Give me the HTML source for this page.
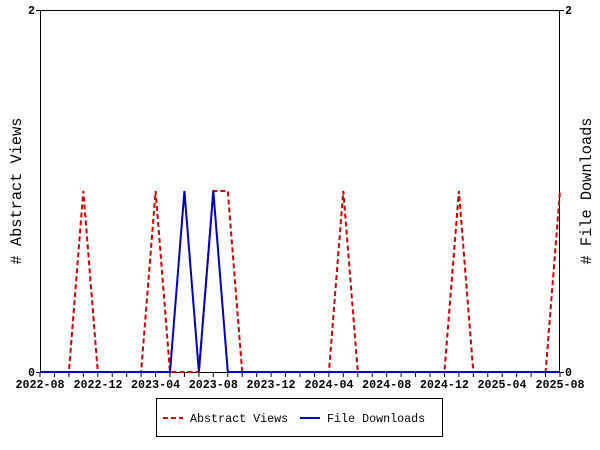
<!DOCTYPE html>
<html><head><style>body{margin:0;background:#fff}svg{display:block}text{font-family:"Liberation Mono",monospace;font-weight:bold;font-size:11.7px;fill:#000}</style></head><body>
<svg width="600" height="450" xmlns="http://www.w3.org/2000/svg">
<rect x="40.5" y="10.5" width="519" height="362" fill="none" stroke="#000" stroke-width="1"/>
<g stroke="#000" stroke-width="1" id="ticks"></g>
<g stroke="#000">
<line x1="36" y1="372.5" x2="40" y2="372.5"/><line x1="36" y1="10.5" x2="40" y2="10.5"/>
<line x1="560" y1="372.5" x2="564" y2="372.5"/><line x1="560" y1="10.5" x2="564" y2="10.5"/>
</g>
<text x="35" y="376" text-anchor="end">0</text><text x="35" y="14" text-anchor="end">2</text>
<text x="565" y="376">0</text><text x="565" y="14">2</text>
<text x="40" y="388" text-anchor="middle">2022-08</text>
<text x="98" y="388" text-anchor="middle">2022-12</text>
<text x="155.6" y="388" text-anchor="middle">2023-04</text>
<text x="213.3" y="388" text-anchor="middle">2023-08</text>
<text x="271" y="388" text-anchor="middle">2023-12</text>
<text x="329" y="388" text-anchor="middle">2024-04</text>
<text x="386.7" y="388" text-anchor="middle">2024-08</text>
<text x="444.4" y="388" text-anchor="middle">2024-12</text>
<text x="502" y="388" text-anchor="middle">2025-04</text>
<text x="560" y="388" text-anchor="middle">2025-08</text>
<text transform="translate(21,191) rotate(-90)" text-anchor="middle" style="font-size:15.3px;font-weight:normal"># Abstract Views</text>
<text transform="translate(591,191) rotate(-90)" text-anchor="middle" style="font-size:15.3px;font-weight:normal"># File Downloads</text>
<polyline fill="none" stroke="#d00000" stroke-width="2" stroke-dasharray="5,3" points="40,372 68.9,372 83.3,191 97.8,372 141.1,372 155.6,191 170,372 198.9,372 213.3,191 227.8,191 242.2,372 328.9,372 343.3,191 357.8,372 444.4,372 458.9,191 473.3,372 545.6,372 560,191"/>
<polyline fill="none" stroke="#0000c0" stroke-width="2" points="40,372 170,372 184.4,191 198.9,372 213.3,191 227.8,372 560,372"/>
<rect x="156.5" y="398.5" width="286" height="38" fill="#fff" stroke="#000"/>
<line x1="163" y1="418" x2="183" y2="418" stroke="#d00000" stroke-width="2" stroke-dasharray="5,3"/>
<text x="190" y="422" style="font-weight:normal">Abstract Views</text>
<line x1="300" y1="418" x2="320" y2="418" stroke="#0000c0" stroke-width="2"/>
<text x="327" y="422" style="font-weight:normal">File Downloads</text>
<script>
var g=document.getElementById('ticks');
for(var i=0;i<=36;i++){var x=40+i*520/36;var l=document.createElementNS('http://www.w3.org/2000/svg','line');
l.setAttribute('x1',x);l.setAttribute('x2',x);l.setAttribute('y1',372);l.setAttribute('y2',377);g.appendChild(l);}
</script>
</svg>
</body></html>
